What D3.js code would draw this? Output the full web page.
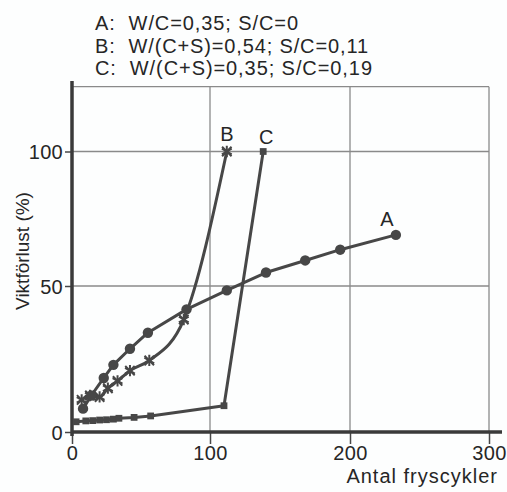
<!DOCTYPE html>
<html><head><meta charset="utf-8">
<script src="https://cdn.jsdelivr.net/npm/d3@7"></script>
<style>html,body{margin:0;padding:0;background:#fdfefe;}svg{display:block;}</style>
</head><body>
<script>
// Data (x = Antal fryscykler, y = Viktförlust %)
const seriesA_x = [8, 14, 23, 30, 42, 55, 83, 112, 140, 168, 193, 233];
const seriesA_y = [8, 12.5, 18.5, 23, 28.5, 34, 42, 48.5, 55, 59.5, 63.5, 69];
const seriesB_x = [7, 13, 20, 26, 33, 42, 56, 81, 112];
const seriesB_y = [11, 12.5, 12, 15, 17.5, 21, 24.5, 38.5, 100];
const seriesC_x = [3, 10, 15, 20, 25, 30, 34, 45, 57, 110, 138];
const seriesC_y = [3.5, 3.8, 3.9, 4.1, 4.2, 4.4, 4.7, 5, 5.5, 9, 100];
const xTicks = [0, 100, 200, 300];
const yTicks = [0, 50, 100];
const legendLines = ["A:  W/C=0,35; S/C=0", "B:  W/(C+S)=0,54; S/C=0,11", "C:  W/(C+S)=0,35; S/C=0,19"];
const seriesNames = ["A", "B", "C"];
const xTitle = "Antal fryscykler";
const yTitle = "Viktförlust (%)";

const W = 507, H = 492;
const ink = "#474747", gridC = "#8a8a8a", txt = "#262626";
const font = "Liberation Sans, Arial, sans-serif";

// scanned figure: piecewise scales follow the printed tick spacing
const x = d3.scaleLinear().domain([0, 100, 200, 300]).range([72, 210, 350, 489]);
const y = d3.scaleLinear().domain([0, 50, 100, 124]).range([432, 286, 151.5, 86.7]);

const svg = d3.select("body").append("svg").attr("width", W).attr("height", H)
  .style("font-family", font);

// grid
const g = svg.append("g");
[50, 100, 124].forEach(v => g.append("line").attr("x1", x(0)).attr("x2", x(300))
  .attr("y1", y(v)).attr("y2", y(v)).attr("stroke", gridC).attr("stroke-width", 1.3));
[100, 200, 300].forEach(v => g.append("line").attr("x1", x(v)).attr("x2", x(v))
  .attr("y1", y(124)).attr("y2", y(0)).attr("stroke", gridC).attr("stroke-width", 1.3));

// axes
const xAxis = d3.axisBottom(x).tickValues(xTicks).tickSize(12).tickPadding(2).tickFormat(d3.format("d"));
const xg = svg.append("g").attr("transform", `translate(0,${y(0)})`).call(xAxis);
xg.select(".domain").remove();
xg.selectAll(".tick line").attr("stroke", ink).attr("stroke-width", 1.5);
xg.selectAll(".tick text").attr("fill", txt).style("font-size", "20px").style("font-family", font).style("letter-spacing", "0.3px");

const yAxis = d3.axisLeft(y).tickValues(yTicks).tickSize(7).tickPadding(2).tickFormat(d3.format("d"));
const yg = svg.append("g").attr("transform", `translate(${x(0)},0)`).call(yAxis);
yg.select(".domain").remove();
yg.selectAll(".tick line").attr("stroke", ink).attr("stroke-width", 1.5);
yg.selectAll(".tick text").attr("fill", txt).style("font-size", "20px").style("font-family", font).attr("dy", "0.36em").style("letter-spacing", "0.3px");

svg.append("line").attr("x1", x(0)).attr("x2", 502).attr("y1", y(0)).attr("y2", y(0))
  .attr("stroke", "#3a3a3a").attr("stroke-width", 3.5);
svg.append("line").attr("x1", x(0)).attr("x2", x(0)).attr("y1", 81).attr("y2", 436)
  .attr("stroke", "#3a3a3a").attr("stroke-width", 3.5);

// titles
svg.append("text").attr("x", 498).attr("y", 483).attr("text-anchor", "end")
  .attr("fill", txt).style("font-size", "20px").style("letter-spacing", "1px").text(xTitle);
svg.append("text").attr("transform", "translate(29,251) rotate(-90)").attr("text-anchor", "middle")
  .attr("fill", txt).style("font-size", "19px").text(yTitle);

// legend text
const legendY = [30, 53, 75];
const legendW = [203, 273, 277];
legendLines.forEach((t, i) => svg.append("text").attr("x", 95).attr("y", legendY[i])
  .attr("fill", txt).style("font-size", "20px")
  .attr("textLength", legendW[i]).attr("lengthAdjust", "spacing")
  .style("white-space", "pre").attr("xml:space", "preserve").text(t));

// series
const mk = (xs, ys) => xs.map((v, i) => [v, ys[i]]);
const A = mk(seriesA_x, seriesA_y), B = mk(seriesB_x, seriesB_y), C = mk(seriesC_x, seriesC_y);
const line = d3.line().x(d => x(d[0])).y(d => y(d[1]));
const lineB = d3.line().x(d => x(d[0])).y(d => y(d[1])).curve(d3.curveMonotoneX);

svg.append("path").attr("d", line(C)).attr("fill", "none").attr("stroke", ink).attr("stroke-width", 3).attr("stroke-linejoin", "round");
svg.append("path").attr("d", lineB(B)).attr("fill", "none").attr("stroke", ink).attr("stroke-width", 3).attr("stroke-linejoin", "round");
svg.append("path").attr("d", line(A)).attr("fill", "none").attr("stroke", ink).attr("stroke-width", 3).attr("stroke-linejoin", "round");

svg.append("g").selectAll("path").data(C).join("path")
  .attr("d", d3.symbol(d3.symbolSquare, 46)).attr("transform", d => `translate(${x(d[0])},${y(d[1])})`)
  .attr("fill", ink);
const star = svg.append("g").selectAll("g").data(B).join("g")
  .attr("transform", d => `translate(${x(d[0])},${y(d[1])})`);
star.append("path").attr("d", d3.symbol(d3.symbolAsterisk, 90)).attr("stroke", ink).attr("stroke-width", 2).attr("fill", "none");
star.append("path").attr("d", d3.symbol(d3.symbolTimes, 60)).attr("stroke", ink).attr("stroke-width", 2).attr("fill", "none");
svg.append("g").selectAll("circle").data(A).join("circle")
  .attr("cx", d => x(d[0])).attr("cy", d => y(d[1])).attr("r", 5.2).attr("fill", ink);

// series labels
const lastOf = [A[A.length - 1], B[B.length - 1], C[C.length - 1]];
const lblOff = [[-9, -9], [0, -11], [3, -8]];
seriesNames.forEach((n, i) => svg.append("text")
  .attr("x", x(lastOf[i][0]) + lblOff[i][0]).attr("y", y(lastOf[i][1]) + lblOff[i][1])
  .attr("text-anchor", "middle").attr("fill", txt).style("font-size", "20px").text(n));
</script>
</body></html>
